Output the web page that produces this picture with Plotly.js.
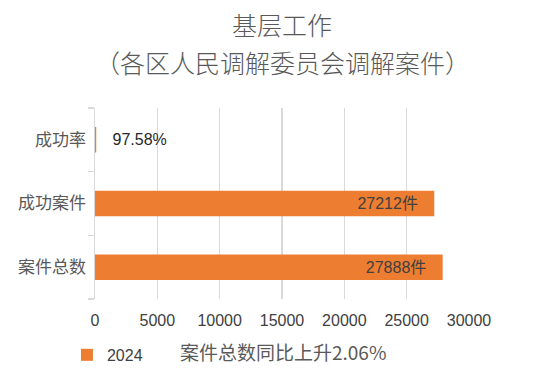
<!DOCTYPE html>
<html>
<head>
<meta charset="utf-8">
<script src="https://cdn.plot.ly/plotly-3.0.1.min.js"></script>
<style>html,body{margin:0;padding:0;background:#fff}#chart{width:546px;height:382px}</style>
</head>
<body>
<div id="chart"></div>
<script>
// Data (bottom to top)
const categories = ['案件总数', '成功案件', '成功率'];
const values = [27888, 27212, 97.58];
const valueLabels = ['27888件', '27212件', '97.58%'];
const seriesName = '2024';
const xTicks = [0, 5000, 10000, 15000, 20000, 25000, 30000];
const titleLine1 = '基层工作';
const titleLine2 = '（各区人民调解委员会调解案件）';
const note = '案件总数同比上升2.06%';

const NB = '\u00a0';
const texts = valueLabels.map((t, i) => i === 2 ? NB + NB + NB + t : t + NB + NB + NB);
const positions = ['inside', 'inside', 'outside'];

const font = '"Liberation Sans", "Noto Sans CJK SC", sans-serif';
const cjk = '"Noto Sans CJK SC", sans-serif';

const trace = {
  type: 'bar',
  orientation: 'h',
  name: seriesName,
  y: categories,
  x: values,
  text: texts,
  textposition: positions,
  insidetextanchor: 'end',
  textfont: {family: font, size: 16, color: '#404040'},
  insidetextfont: {family: font, size: 16, color: '#404040'},
  outsidetextfont: {family: font, size: 16, color: '#262626'},
  marker: {color: '#ED7D31'},
  cliponaxis: false,
  hoverinfo: 'none'
};

const layout = {
  width: 546,
  height: 382,
  margin: {l: 95, r: 77, t: 108, b: 82},
  paper_bgcolor: '#ffffff',
  plot_bgcolor: '#ffffff',
  bargap: 0.6,
  showlegend: true,
  title: {
    text: titleLine1,
    font: {family: cjk, size: 25, color: '#595959', weight: 300},
    x: 0.5, xanchor: 'center', xref: 'paper',
    y: 1 - 26 / 382, yanchor: 'middle', yref: 'container'
  },
  xaxis: {
    range: [0, 30000],
    tickvals: xTicks,
    ticktext: xTicks.map(String),
    showgrid: true,
    gridcolor: '#d9d9d9',
    gridwidth: 1.5,
    zeroline: false,
    showline: false,
    ticks: '',
    ticklabelstandoff: 10,
    tickfont: {family: font, size: 16, color: '#404040'},
    fixedrange: true
  },
  yaxis: {
    type: 'category',
    categoryorder: 'array',
    categoryarray: categories,
    showline: true,
    linecolor: '#d9d9d9',
    linewidth: 1.5,
    layer: 'above traces',
    ticks: 'outside',
    tickson: 'boundaries',
    ticklen: 6,
    tickcolor: '#d9d9d9',
    tickwidth: 1.5,
    showgrid: false,
    ticklabelstandoff: 4,
    tickfont: {family: cjk, size: 17, color: '#595959'},
    fixedrange: true
  },
  legend: {
    orientation: 'h',
    x: -0.075, xanchor: 'left', xref: 'paper',
    y: -0.286, yanchor: 'middle', yref: 'paper',
    font: {family: font, size: 16, color: '#404040'},
    bgcolor: 'rgba(0,0,0,0)'
  },
  annotations: [{
    text: titleLine2,
    xref: 'paper', yref: 'paper',
    x: 0.5, xanchor: 'center',
    y: (300 - 62) / 192, yanchor: 'middle',
    showarrow: false,
    font: {family: cjk, size: 25, color: '#595959', weight: 300}
  }, {
    text: note,
    xref: 'paper', yref: 'paper',
    x: (178 - 95) / 374, xanchor: 'left',
    y: -0.275, yanchor: 'middle',
    showarrow: false,
    font: {family: cjk, size: 19, color: '#595959'}
  }]
};

Plotly.newPlot('chart', [trace], layout, {displayModeBar: false, staticPlot: true});
</script>
</body>
</html>
